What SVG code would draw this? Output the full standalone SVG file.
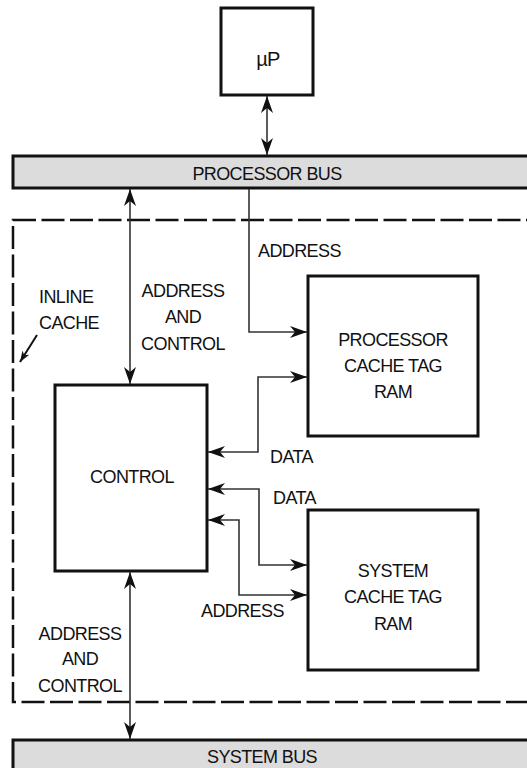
<svg xmlns="http://www.w3.org/2000/svg" width="527" height="768" viewBox="0 0 527 768">
<style>
text{font-family:"Liberation Sans",Arial,sans-serif;font-size:18px;letter-spacing:-0.6px;fill:#111;}
.box{fill:#fff;stroke:#111;stroke-width:3;}
.bus{fill:#dcdcdc;stroke:#111;stroke-width:3;}
.conn{fill:none;stroke:#333;stroke-width:1.6;}
.mid{text-anchor:middle;}
</style>
<defs>
<marker id="ah" markerUnits="userSpaceOnUse" markerWidth="17" markerHeight="12" refX="17" refY="6" orient="auto-start-reverse">
<path d="M0,0 L17,6 L0,12 L5,6 z" fill="#111"/>
</marker>
<marker id="ahs" markerUnits="userSpaceOnUse" markerWidth="11" markerHeight="8" refX="11" refY="4" orient="auto">
<path d="M0,0 L11,4 L0,8 L3,4 z" fill="#111"/>
</marker>
</defs>

<g id="inline-cache">
<rect x="13" y="220" width="530" height="482" fill="none" stroke="#111" stroke-width="2.5" stroke-dasharray="23,5.5"/>
<text x="39" y="303">INLINE</text>
<text x="39" y="329">CACHE</text>
</g>

<g id="uP">
<rect class="box" x="221" y="8" width="92" height="87"/>
<text class="mid" x="268" y="66" style="font-size:20px">µP</text>
</g>

<g id="processor-bus">
<rect class="bus" x="13" y="156" width="530" height="32"/>
<text class="mid" x="267" y="180">PROCESSOR BUS</text>
</g>

<g id="control">
<rect class="box" x="55" y="385" width="152" height="186"/>
<text class="mid" x="132" y="483">CONTROL</text>
</g>

<g id="processor-cache-tag-ram">
<rect class="box" x="308" y="276" width="170" height="160"/>
<text class="mid" x="393" y="346">PROCESSOR</text>
<text class="mid" x="393" y="372">CACHE TAG</text>
<text class="mid" x="393" y="398">RAM</text>
</g>

<g id="system-cache-tag-ram">
<rect class="box" x="308" y="510" width="170" height="160"/>
<text class="mid" x="393" y="577">SYSTEM</text>
<text class="mid" x="393" y="603">CACHE TAG</text>
<text class="mid" x="393" y="630">RAM</text>
</g>

<g id="system-bus">
<rect class="bus" x="13" y="740" width="530" height="40"/>
<text class="mid" x="262" y="763">SYSTEM BUS</text>
</g>

<g id="connectors">
<line class="conn" x1="267" y1="96" x2="267" y2="155" marker-start="url(#ah)" marker-end="url(#ah)"/>
<line class="conn" x1="130" y1="189" x2="130" y2="384" marker-start="url(#ah)" marker-end="url(#ah)"/>
<polyline class="conn" points="249,189 249,332 307,332" marker-end="url(#ah)"/>
<polyline class="conn" points="208,452 258,452 258,377 307,377" marker-start="url(#ah)" marker-end="url(#ah)"/>
<polyline class="conn" points="208,489 259,489 259,565 307,565" marker-start="url(#ah)" marker-end="url(#ah)"/>
<polyline class="conn" points="208,520 239,520 239,595 307,595" marker-start="url(#ah)" marker-end="url(#ah)"/>
<line class="conn" x1="130" y1="572" x2="130" y2="739" marker-start="url(#ah)" marker-end="url(#ah)"/>
<line x1="37" y1="335" x2="20" y2="362" stroke="#111" stroke-width="2" marker-end="url(#ahs)"/>
<text x="258" y="257">ADDRESS</text>
<text class="mid" x="183" y="297">ADDRESS</text>
<text class="mid" x="183" y="323">AND</text>
<text class="mid" x="183" y="350">CONTROL</text>
<text x="270" y="463">DATA</text>
<text x="273" y="504">DATA</text>
<text x="201" y="617">ADDRESS</text>
<text class="mid" x="80" y="640">ADDRESS</text>
<text class="mid" x="80" y="665">AND</text>
<text class="mid" x="80" y="692">CONTROL</text>
</g>
</svg>
